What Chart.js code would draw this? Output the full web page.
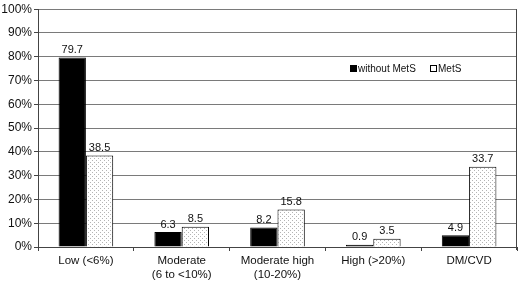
<!DOCTYPE html>
<html>
<head>
<meta charset="utf-8">
<script src="https://cdn.jsdelivr.net/npm/chart.js@4"></script>
<style>
  html, body { margin: 0; padding: 0; background: #fff; }
  #wrap { width: 520px; height: 283px; }
</style>
</head>
<body>
<div id="wrap"><canvas id="riskChart"></canvas></div>
<script>
// data
const categories = [['Low (<6%)'], ['Moderate', '(6 to <10%)'], ['Moderate high', '(10-20%)'], ['High (>20%)'], ['DM/CVD']];
const withoutMetS = [79.7, 6.3, 8.2, 0.9, 4.9];
const withMetS = [38.5, 8.5, 15.8, 3.5, 33.7];
const seriesNames = ['without MetS', 'MetS'];
const yTicks = [0, 10, 20, 30, 40, 50, 60, 70, 80, 90, 100];

const FONT = 'Arial, "Liberation Sans", sans-serif';

// dotted fill for the MetS bars
function dotPattern() {
    var c = document.createElement('canvas');
    c.width = 4; c.height = 4;
    var g = c.getContext('2d');
    g.fillStyle = '#fff';
    g.fillRect(0, 0, 4, 4);
    g.fillStyle = '#b4b4b4';
    g.fillRect(0, 0, 1, 1);
    g.fillRect(2, 2, 1, 1);
    return g.createPattern(c, 'repeat');
}

// value labels above each bar
const barLabels = {
    id: 'barLabels',
    afterDatasetsDraw(chart) {
        const ctx = chart.ctx;
        ctx.save();
        ctx.font = '11px ' + FONT;
        ctx.fillStyle = '#111';
        ctx.textAlign = 'center';
        ctx.textBaseline = 'bottom';
        chart.data.datasets.forEach(function(ds, i) {
            chart.getDatasetMeta(i).data.forEach(function(bar, j) {
                ctx.fillText(ds.data[j].toFixed(1), bar.x, bar.y - 2);
            });
        });
        ctx.restore();
    }
};

// right frame line and floating legend
const frameAndLegend = {
    id: 'frameAndLegend',
    afterDraw(chart) {
        const ctx = chart.ctx;
        const a = chart.chartArea;
        ctx.save();
        ctx.strokeStyle = '#444';
        ctx.lineWidth = 1;
        ctx.beginPath();
        ctx.moveTo(Math.round(a.right) - 0.5, a.top);
        ctx.lineTo(Math.round(a.right) - 0.5, a.bottom + 3);
        ctx.stroke();

        ctx.font = '10px ' + FONT;
        ctx.textBaseline = 'middle';
        ctx.textAlign = 'left';
        var lx = [350, 430];
        var ly = 68;
        chart.data.datasets.forEach(function(ds, i) {
            if (i === 0) {
                ctx.fillStyle = '#000';
                ctx.fillRect(lx[i], ly - 3, 7, 7);
            } else {
                ctx.fillStyle = '#fff';
                ctx.fillRect(lx[i] + 0.5, ly - 2.5, 6, 6);
                ctx.strokeStyle = '#000';
                ctx.strokeRect(lx[i] + 0.5, ly - 2.5, 6, 6);
            }
            ctx.fillStyle = '#111';
            ctx.fillText(ds.label, lx[i] + 8, ly + 1);
        });
        ctx.restore();
    }
};

const config = {
    type: 'bar',
    data: {
        labels: categories,
        datasets: [{
            label: seriesNames[0],
            data: withoutMetS,
            backgroundColor: '#000',
            borderColor: '#000',
            borderWidth: 1,
            categoryPercentage: 0.57,
            barPercentage: 1.0
        }, {
            label: seriesNames[1],
            data: withMetS,
            backgroundColor: dotPattern(),
            borderColor: '#000',
            borderWidth: 1,
            categoryPercentage: 0.57,
            barPercentage: 1.0
        }]
    },
    options: {
        responsive: true,
        maintainAspectRatio: false,
        animation: false,
        layout: { padding: { top: 7, right: 3, left: 0, bottom: 0 } },
        plugins: {
            legend: { display: false },
            tooltip: { enabled: false }
        },
        scales: {
            x: {
                offset: true,
                grid: {
                    offset: true,
                    drawOnChartArea: false,
                    drawTicks: true,
                    tickLength: 4,
                    color: '#444'
                },
                border: { color: '#444', width: 1 },
                ticks: {
                    color: '#111',
                    font: { family: FONT, size: 11.5 },
                    padding: 3,
                    maxRotation: 0,
                    autoSkip: false
                },
                afterFit: function(scale) { scale.height = 36; }
            },
            y: {
                min: 0,
                max: 100,
                afterBuildTicks: function(scale) {
                    scale.ticks = yTicks.map(function(v) { return { value: v }; });
                },
                grid: {
                    color: '#7a7a7a',
                    tickColor: '#444',
                    tickLength: 4,
                    drawTicks: true
                },
                border: { color: '#444', width: 1 },
                ticks: {
                    color: '#111',
                    font: { family: FONT, size: 12 },
                    padding: 2,
                    callback: function(v) { return v + '%'; }
                },
                afterFit: function(scale) { scale.width = 38; }
            }
        }
    },
    plugins: [barLabels, frameAndLegend]
};

const riskChart = new Chart(document.getElementById('riskChart'), config);
</script>
</body>
</html>
